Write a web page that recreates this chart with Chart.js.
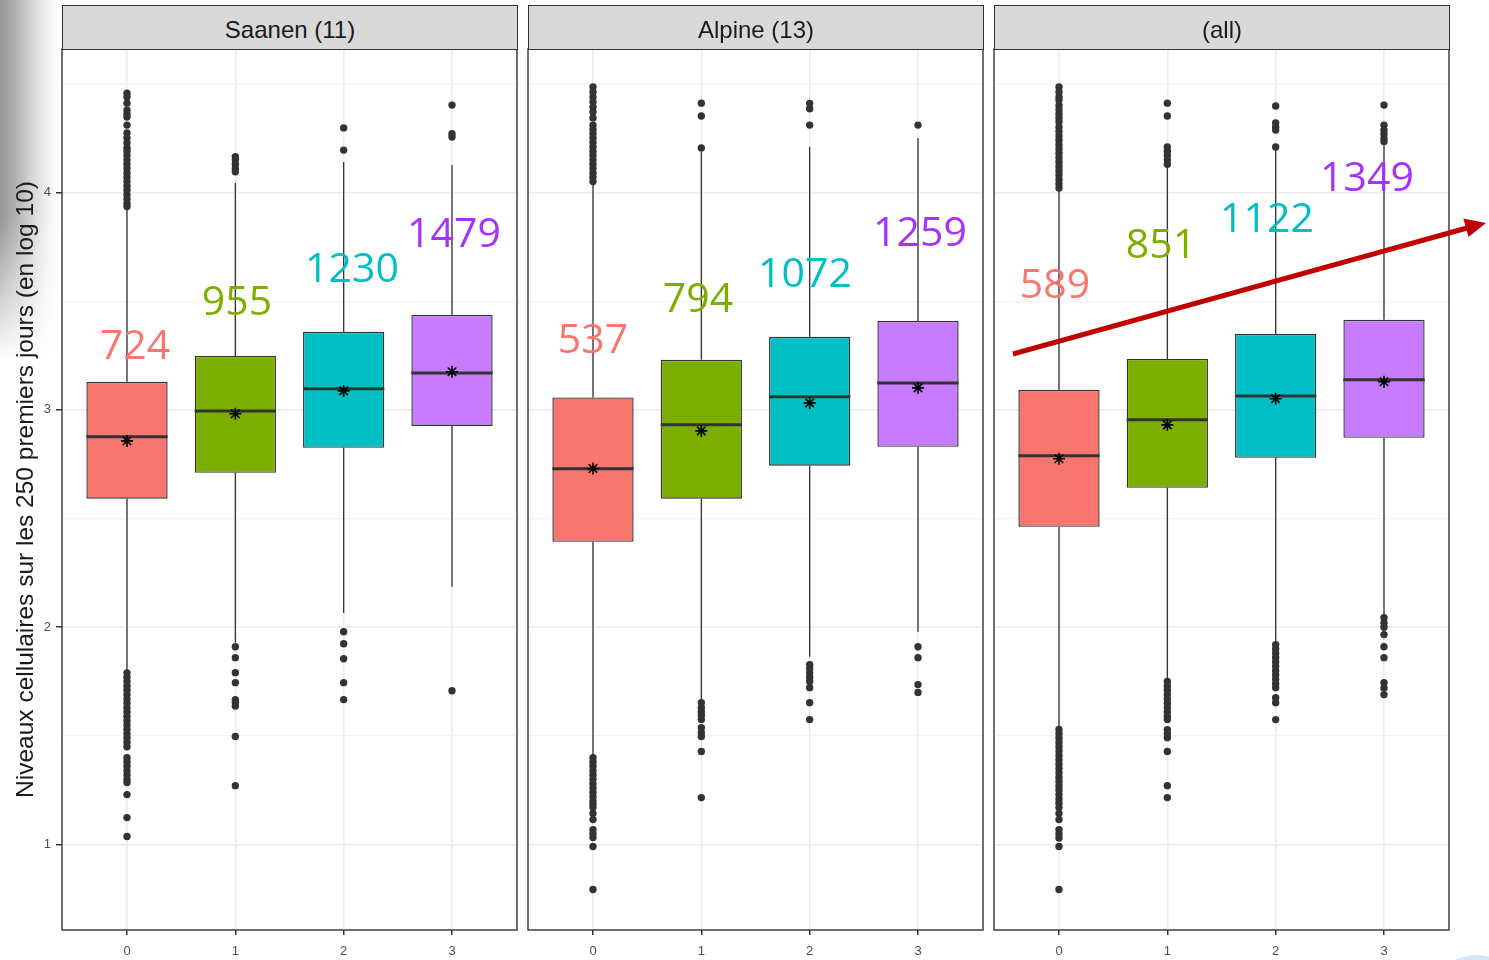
<!DOCTYPE html>
<html>
<head>
<meta charset="utf-8">
<script src="https://cdn.jsdelivr.net/npm/chart.js@4.4.1/dist/chart.umd.min.js"></script>
<style>
html,body{margin:0;padding:0;background:#fff;}
body{width:1489px;height:960px;position:relative;overflow:hidden;}
.shade{position:absolute;left:0;top:0;width:60px;height:400px;
  background:linear-gradient(to right,#959595 0px,#b3b3b3 16px,#d9d9d9 34px,#f3f3f3 48px,rgba(255,255,255,0) 60px);
  -webkit-mask-image:linear-gradient(to bottom,#000 0,#000 55%,transparent 90%);
  mask-image:linear-gradient(to bottom,#000 0,#000 55%,transparent 90%);}
canvas{position:absolute;}
.strip{position:absolute;top:5px;height:45px;width:456px;box-sizing:border-box;background:#d9d9d9;
  border:1.5px solid #333;display:flex;align-items:center;justify-content:center;padding-top:4px;
  font:24px 'Liberation Sans',Arial,sans-serif;color:#1a1a1a;}
.bubble{position:absolute;left:1430px;top:955px;width:92px;height:92px;border-radius:50%;background:#d5e6f5;}
svg.over{position:absolute;left:0;top:0;pointer-events:none;}
</style>
</head>
<body>
<div class="shade"></div>
<div class="bubble"></div>
<canvas id="c0" width="520" height="912" style="left:0px;top:48px;"></canvas>
<canvas id="c1" width="459" height="912" style="left:526px;top:48px;"></canvas>
<canvas id="c2" width="459" height="912" style="left:992px;top:48px;"></canvas>
<div class="strip" id="s0" style="left:62px;"></div>
<div class="strip" id="s1" style="left:528px;"></div>
<div class="strip" id="s2" style="left:994px;"></div>
<svg class="over" id="over" width="1489" height="960" xmlns="http://www.w3.org/2000/svg"></svg>
<script>
// ---------------- DATA ----------------
const categories = ['0', '1', '2', '3'];
const stripNames = ['Saanen (11)', 'Alpine (13)', '(all)'];
const yTitle = 'Niveaux cellulaires sur les 250 premiers jours (en log 10)';
const yTickValues = [1, 1.5, 2, 2.5, 3, 3.5, 4, 4.5];
const yMin = 0.607, yMax = 4.66;

// Saanen (11)
const saanenQ1 = [2.591, 2.710, 2.825, 2.926];
const saanenMedian = [2.876, 2.995, 3.097, 3.170];
const saanenQ3 = [3.129, 3.248, 3.359, 3.437];
const saanenMean = [2.857, 2.982, 3.087, 3.175];
const saanenWhiskerLow = [1.80, 1.93, 2.067, 2.186];
const saanenWhiskerHigh = [3.92, 4.044, 4.14, 4.126];
const saanenOutliers0 = [4.457, 4.439, 4.411, 4.379, 4.361, 4.347, 4.310, 4.274, 4.251, 4.228, 4.205, 4.19, 4.17, 4.15, 4.13, 4.11, 4.09, 4.07, 4.05, 4.03, 4.01, 3.99, 3.97, 3.95, 3.935,
  1.79, 1.77, 1.75, 1.73, 1.71, 1.69, 1.67, 1.65, 1.63, 1.61, 1.59, 1.57, 1.55, 1.53, 1.51, 1.49, 1.47, 1.45, 1.40, 1.38, 1.36, 1.34, 1.32, 1.30, 1.285, 1.23, 1.124, 1.037];
const saanenOutliers1 = [4.165, 4.15, 4.13, 4.11, 4.095, 1.910, 1.860, 1.791, 1.745, 1.667, 1.655, 1.637, 1.497, 1.271];
const saanenOutliers2 = [4.297, 4.195, 1.979, 1.924, 1.855, 1.745, 1.667];
const saanenOutliers3 = [4.402, 4.27, 4.255, 1.708];
const saanenCounts = ['724', '955', '1230', '1479'];

// Alpine (13)
const alpineQ1 = [2.393, 2.591, 2.743, 2.830];
const alpineMedian = [2.729, 2.931, 3.060, 3.124];
const alpineQ3 = [3.057, 3.230, 3.336, 3.409];
const alpineMean = [2.730, 2.903, 3.032, 3.101];
const alpineWhiskerLow = [1.41, 1.66, 1.864, 1.979];
const alpineWhiskerHigh = [4.04, 4.19, 4.209, 4.25];
const alpineOutliers0 = [4.485, 4.462, 4.439, 4.416, 4.393, 4.370, 4.343, 4.31, 4.29, 4.27, 4.25, 4.23, 4.21, 4.19, 4.17, 4.15, 4.13, 4.11, 4.09, 4.07, 4.05,
  1.40, 1.38, 1.36, 1.34, 1.32, 1.30, 1.28, 1.26, 1.24, 1.22, 1.20, 1.185, 1.17, 1.143, 1.115, 1.069, 1.05, 1.032, 0.991, 0.793];
const alpineOutliers1 = [4.411, 4.352, 4.205, 1.653, 1.63, 1.61, 1.595, 1.575, 1.538, 1.515, 1.497, 1.428, 1.216];
const alpineOutliers2 = [4.41, 4.385, 4.310, 1.828, 1.81, 1.79, 1.77, 1.75, 1.722, 1.653, 1.575];
const alpineOutliers3 = [4.310, 1.910, 1.860, 1.736, 1.70];
const alpineCounts = ['537', '794', '1072', '1259'];

// (all)
const allQ1 = [2.462, 2.641, 2.779, 2.871];
const allMedian = [2.789, 2.954, 3.064, 3.138];
const allQ3 = [3.092, 3.234, 3.349, 3.414];
const allMean = [2.775, 2.931, 3.051, 3.129];
const allWhiskerLow = [1.53, 1.76, 1.93, 2.05];
const allWhiskerHigh = [4.01, 4.12, 4.195, 4.22];
const allOutliers0 = [4.485, 4.462, 4.439, 4.425, 4.40, 4.38, 4.36, 4.343, 4.324, 4.30, 4.28, 4.26, 4.24, 4.22, 4.20, 4.18, 4.16, 4.14, 4.12, 4.10, 4.08, 4.06, 4.04, 4.02,
  1.53, 1.51, 1.49, 1.47, 1.45, 1.43, 1.41, 1.39, 1.37, 1.35, 1.33, 1.31, 1.29, 1.27, 1.25, 1.23, 1.21, 1.19, 1.17, 1.143, 1.115, 1.069, 1.05, 1.03, 0.991, 0.793];
const allOutliers1 = [4.411, 4.352, 4.209, 4.19, 4.17, 4.15, 4.13, 1.75, 1.73, 1.71, 1.69, 1.67, 1.65, 1.63, 1.61, 1.59, 1.575, 1.529, 1.51, 1.492, 1.428, 1.271, 1.216];
const allOutliers2 = [4.398, 4.32, 4.30, 4.287, 4.209, 1.92, 1.90, 1.88, 1.86, 1.84, 1.82, 1.80, 1.78, 1.76, 1.74, 1.722, 1.676, 1.653, 1.575];
const allOutliers3 = [4.402, 4.31, 4.287, 4.27, 4.25, 4.235, 2.044, 2.02, 2.0, 1.966, 1.910, 1.860, 1.745, 1.72, 1.69];
const allCounts = ['589', '851', '1122', '1349'];

// ---------------- STYLE / LAYOUT ----------------
const boxFill = ['#F8766D', '#7CAE00', '#00BFC4', '#C77CFF'];
const countColors = ['#f8766d', '#7cae00', '#00bfc4', '#a633f5'];
const countPos = [
  [[135, 359], [237, 315], [352, 282], [454, 247]],
  [[593, 353], [698, 312], [805, 287], [920, 246]],
  [[1055, 298], [1161, 258], [1267, 232], [1367, 191]]
];
const axisFont = "'Liberation Sans', Arial, sans-serif";

const panels = [
  {q1: saanenQ1, med: saanenMedian, q3: saanenQ3, mean: saanenMean, lo: saanenWhiskerLow, hi: saanenWhiskerHigh,
   out: [saanenOutliers0, saanenOutliers1, saanenOutliers2, saanenOutliers3], counts: saanenCounts},
  {q1: alpineQ1, med: alpineMedian, q3: alpineQ3, mean: alpineMean, lo: alpineWhiskerLow, hi: alpineWhiskerHigh,
   out: [alpineOutliers0, alpineOutliers1, alpineOutliers2, alpineOutliers3], counts: alpineCounts},
  {q1: allQ1, med: allMedian, q3: allQ3, mean: allMean, lo: allWhiskerLow, hi: allWhiskerHigh,
   out: [allOutliers0, allOutliers1, allOutliers2, allOutliers3], counts: allCounts}
];

const medianPlugin = {
  id: 'medianLines',
  afterDatasetDraw(chart, args) {
    const ds = chart.data.datasets[args.index];
    if (!ds.medians) return;
    const ctx = chart.ctx, ys = chart.scales.y;
    ctx.save();
    ctx.strokeStyle = '#333333';
    ctx.lineWidth = 3;
    args.meta.data.forEach((bar, i) => {
      const p = bar.getProps(['x', 'width'], true);
      const y = ys.getPixelForValue(ds.medians[i]);
      ctx.beginPath();
      ctx.moveTo(p.x - p.width / 2, y);
      ctx.lineTo(p.x + p.width / 2, y);
      ctx.stroke();
    });
    ctx.restore();
  }
};
const framePlugin = {
  id: 'panelFrame',
  afterDraw(chart) {
    const a = chart.chartArea, ctx = chart.ctx;
    ctx.save();
    ctx.strokeStyle = '#333333';
    ctx.lineWidth = 1.4;
    ctx.strokeRect(a.left, a.top, a.right - a.left, a.bottom - a.top);
    ctx.restore();
  }
};
function noPad(s) { s.paddingLeft = 0; s.paddingRight = 0; s.paddingTop = 0; s.paddingBottom = 0; }

function makePanel(idx) {
  const p = panels[idx];
  const showY = idx === 0;
  const whisk = [];
  categories.forEach((c, i) => {
    whisk.push({x: i, y: p.q3[i]}, {x: i, y: p.hi[i]}, {x: i, y: null},
               {x: i, y: p.q1[i]}, {x: i, y: p.lo[i]}, {x: i, y: null});
  });
  const outs = [];
  p.out.forEach((arr, i) => arr.forEach(v => outs.push({x: i, y: v})));
  new Chart(document.getElementById('c' + idx), {
    type: 'bar',
    data: {
      datasets: [
        {type: 'line', data: whisk, borderColor: '#333333', borderWidth: 1.3, pointRadius: 0,
         spanGaps: false, fill: false, order: 5},
        {type: 'scatter', data: outs, backgroundColor: '#333333', borderWidth: 0, pointRadius: 3.7, order: 4},
        {type: 'bar', data: categories.map((c, i) => ({x: i, y: [p.q1[i], p.q3[i]]})),
         medians: p.med, backgroundColor: boxFill, borderColor: '#333333', borderWidth: 1.4,
         borderSkipped: false, categoryPercentage: 1, barPercentage: 0.75, order: 2},
        {type: 'scatter', data: categories.map((c, i) => ({x: i, y: p.mean[i]})), pointStyle: 'star',
         pointRadius: 6, borderColor: '#000000', borderWidth: 1.6, backgroundColor: '#000000', order: 0}
      ]
    },
    options: {
      responsive: false, animation: false,
      layout: {autoPadding: false,
               padding: showY ? {left: 0, right: 3, top: 1, bottom: 0} : {left: 2, right: 2, top: 1, bottom: 0}},
      plugins: {legend: {display: false}, tooltip: {enabled: false}},
      scales: {
        x: {
          type: 'linear', min: -0.6, max: 3.6, offset: false,
          afterBuildTicks: s => { s.ticks = categories.map((c, i) => ({value: i})); },
          afterFit: s => { s.height = 30; noPad(s); },
          ticks: {callback: v => categories[v], font: {size: 13, family: axisFont}, color: '#4d4d4d',
                  padding: 9, autoSkip: false, maxRotation: 0},
          grid: {color: '#ebebeb', lineWidth: 1.5, tickColor: '#333333', tickLength: 5, offset: false},
          border: {display: false}
        },
        y: {
          min: yMin, max: yMax,
          afterBuildTicks: s => { s.ticks = yTickValues.map(v => ({value: v})); },
          afterFit: s => { s.width = showY ? 62 : 0; noPad(s); },
          ticks: {display: showY, callback: v => Number.isInteger(v) ? String(v) : '',
                  font: {size: 13, family: axisFont}, color: '#4d4d4d', padding: 5, autoSkip: false},
          grid: {
            color: c => Number.isInteger(c.tick.value) ? '#ebebeb' : '#f3f3f3',
            lineWidth: c => Number.isInteger(c.tick.value) ? 1.5 : 1.2,
            tickColor: c => Number.isInteger(c.tick.value) ? '#333333' : 'rgba(0,0,0,0)',
            tickLength: 6, drawTicks: showY
          },
          border: {display: false},
          title: {display: showY, text: yTitle, color: '#1a1a1a',
                  font: {size: 24.5, family: axisFont}, padding: {top: 12, bottom: 0}}
        }
      }
    },
    plugins: [medianPlugin, framePlugin]
  });
  document.getElementById('s' + idx).textContent = stripNames[idx];
}
[0, 1, 2].forEach(makePanel);

// ---------------- ANNOTATIONS ----------------
const svg = document.getElementById('over');
const NS = 'http://www.w3.org/2000/svg';
panels.forEach((p, pi) => {
  p.counts.forEach((t, i) => {
    const el = document.createElementNS(NS, 'text');
    el.setAttribute('x', countPos[pi][i][0]);
    el.setAttribute('y', countPos[pi][i][1]);
    el.setAttribute('text-anchor', 'middle');
    el.setAttribute('fill', countColors[i]);
    el.setAttribute('font-family', "'Open Sans', 'Noto Sans', sans-serif");
    el.setAttribute('font-size', '41');
    el.textContent = t;
    svg.appendChild(el);
  });
});
// trend arrow
const arrowLine = document.createElementNS(NS, 'line');
arrowLine.setAttribute('x1', 1013); arrowLine.setAttribute('y1', 354);
arrowLine.setAttribute('x2', 1467); arrowLine.setAttribute('y2', 228);
arrowLine.setAttribute('stroke', '#c00000'); arrowLine.setAttribute('stroke-width', 5);
svg.appendChild(arrowLine);
const head = document.createElementNS(NS, 'polygon');
head.setAttribute('points', '1486,223 1468.5,237 1463.3,218.5');
head.setAttribute('fill', '#c00000');
svg.appendChild(head);
</script>
</body>
</html>
